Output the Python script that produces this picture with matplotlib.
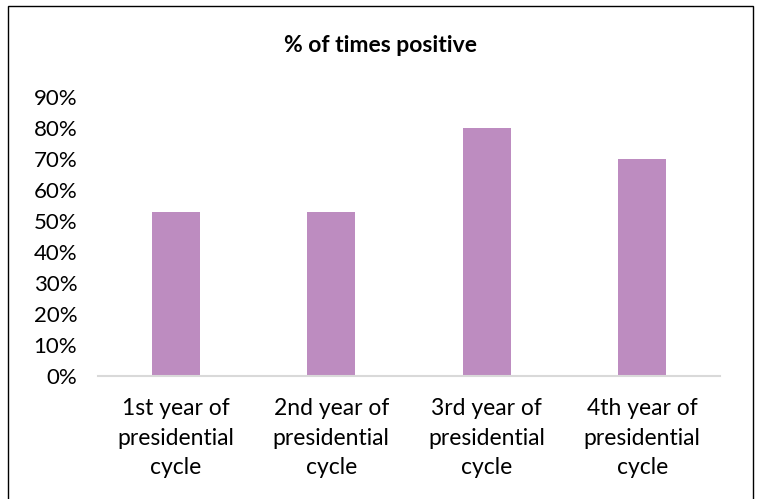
import numpy as np
import matplotlib
matplotlib.use('Agg')
import matplotlib.pyplot as plt
from matplotlib.patches import Rectangle

categories = ["1st year of\npresidential\ncycle", "2nd year of\npresidential\ncycle",
              "3rd year of\npresidential\ncycle", "4th year of\npresidential\ncycle"]
pct_positive = [53, 53, 80, 70]
y_ticks = [0, 10, 20, 30, 40, 50, 60, 70, 80, 90]

plt.rcParams['font.family'] = ['Lato', 'DejaVu Sans']

fig = plt.figure(figsize=(7.58, 4.99), dpi=100)
ax = fig.add_axes([98/758, 1 - 376/499, (720 - 98)/758, (376 - 97)/499])

x = np.arange(len(categories))
ax.bar(x, pct_positive, width=0.31, color='#BD8CC0')

ax.set_xlim(-0.5, len(categories) - 0.5)
ax.set_ylim(0, 90)
ax.set_yticks(y_ticks)
ax.set_yticklabels([f"{v}%" for v in y_ticks])
ax.set_xticks(x)
ax.set_xticklabels(categories, linespacing=1.5)
ax.tick_params(axis='y', length=0, pad=15, labelsize=16)
ax.tick_params(axis='x', length=0, pad=16, labelsize=16.5)

for s in ['top', 'right', 'left']:
    ax.spines[s].set_visible(False)
ax.spines['bottom'].set_color('#D9D9D9')
ax.spines['bottom'].set_linewidth(1.5)

fig.text(380/758, 1 - 46/499, "% of times positive", ha='center', va='center',
         fontsize=16.5, fontweight='bold')

fig.patches.append(Rectangle((8/758, -0.05), (753 - 8)/758, 1.05 - 6/499,
                             transform=fig.transFigure, fill=False,
                             edgecolor='black', linewidth=1))

fig.savefig('out.png', dpi=100)
